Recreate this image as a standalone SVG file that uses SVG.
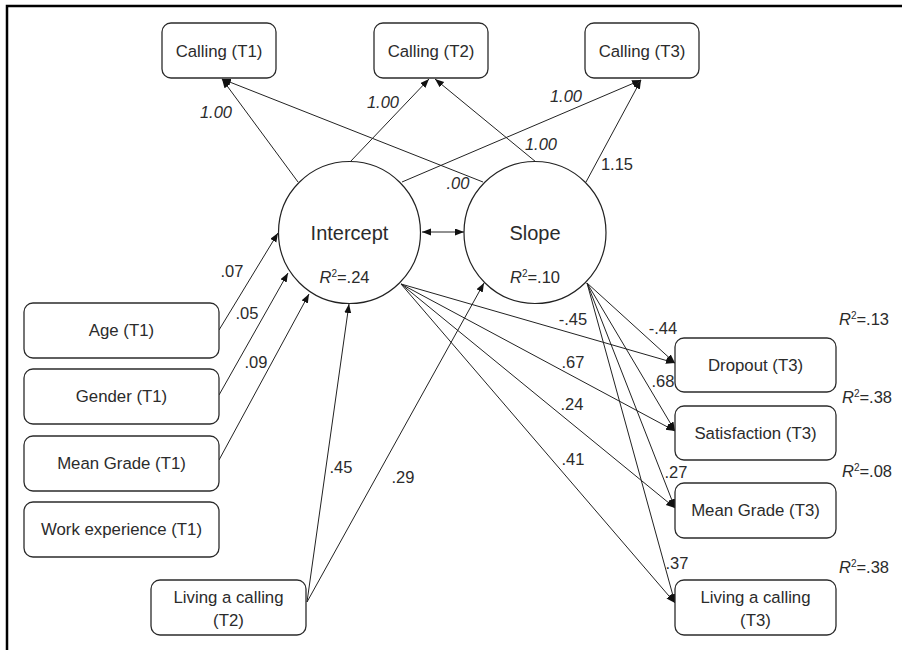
<svg xmlns="http://www.w3.org/2000/svg" width="902" height="650" viewBox="0 0 902 650">
<style>
text{font-family:"Liberation Sans",Arial,sans-serif;fill:#2b2b2b;}
.box{fill:#fff;stroke:#2b2b2b;stroke-width:1.3;}
.circ{fill:#fff;stroke:#222;stroke-width:1.2;}
.lbl{font-size:16.8px;text-anchor:middle;}
.big{font-size:20px;text-anchor:middle;}
.num{font-size:16.5px;text-anchor:middle;}
.it{font-style:italic;}
.conn line{stroke:#222;stroke-width:1;fill:none;marker-end:url(#ah);}
</style>
<defs>
<marker id="ah" markerUnits="userSpaceOnUse" markerWidth="10" markerHeight="8" refX="9" refY="3.5" orient="auto">
<path d="M0,0 L9,3.5 L0,7 z" fill="#111"/>
</marker>
<marker id="ahs" markerUnits="userSpaceOnUse" markerWidth="10" markerHeight="8" refX="9" refY="3.5" orient="auto-start-reverse">
<path d="M0,0 L9,3.5 L0,7 z" fill="#111"/>
</marker>
</defs>
<rect width="902" height="650" fill="#fff"/>
<path d="M7,650 L7,6 L902,6" fill="none" stroke="#000" stroke-width="2.5"/>

<g class="conn">
<line x1="298" y1="182" x2="222" y2="79"/>
<line x1="483" y1="182" x2="222" y2="79"/>
<line x1="350" y1="162" x2="429" y2="79"/>
<line x1="536" y1="162" x2="435" y2="79"/>
<line x1="402" y1="182" x2="641" y2="80"/>
<line x1="586" y1="182" x2="641" y2="80"/>
<line x1="219" y1="330" x2="278" y2="233"/>
<line x1="219" y1="395" x2="288" y2="273"/>
<line x1="219" y1="460" x2="309" y2="294"/>
<line x1="307" y1="602" x2="349" y2="304"/>
<line x1="307" y1="602" x2="484" y2="283"/>
<line x1="401" y1="284" x2="675" y2="363"/>
<line x1="401" y1="284" x2="675" y2="431"/>
<line x1="401" y1="284" x2="675" y2="508"/>
<line x1="401" y1="284" x2="675" y2="603"/>
<line x1="587" y1="283" x2="675" y2="363"/>
<line x1="587" y1="283" x2="675" y2="431"/>
<line x1="587" y1="283" x2="675" y2="508"/>
<line x1="587" y1="283" x2="675" y2="603"/>
<line x1="422" y1="232" x2="464" y2="232" style="marker-start:url(#ahs)"/>
</g>

<g id="calling-t1"><rect class="box" x="162" y="23" width="114" height="55" rx="9"/><text class="lbl" x="219" y="57">Calling (T1)</text></g>
<g id="calling-t2"><rect class="box" x="374" y="23" width="114" height="55" rx="9"/><text class="lbl" x="431" y="57">Calling (T2)</text></g>
<g id="calling-t3"><rect class="box" x="585" y="23" width="114" height="55" rx="9"/><text class="lbl" x="642" y="57">Calling (T3)</text></g>

<g id="intercept"><circle class="circ" cx="349.5" cy="232.5" r="71"/><text class="big" x="349.5" y="240">Intercept</text>
<text class="num" x="344.5" y="283"><tspan class="it">R</tspan><tspan font-size="10" dy="-6">2</tspan><tspan dy="6">=.24</tspan></text></g>
<g id="slope"><circle class="circ" cx="535" cy="232.5" r="71"/><text class="big" x="535" y="240">Slope</text>
<text class="num" x="535" y="283"><tspan class="it">R</tspan><tspan font-size="10" dy="-6">2</tspan><tspan dy="6">=.10</tspan></text></g>

<g id="age"><rect class="box" x="24" y="303" width="195" height="55" rx="9"/><text class="lbl" x="121.5" y="336">Age (T1)</text></g>
<g id="gender"><rect class="box" x="24" y="369" width="195" height="55" rx="9"/><text class="lbl" x="121.5" y="402">Gender (T1)</text></g>
<g id="meangrade-t1"><rect class="box" x="24" y="436" width="195" height="55" rx="9"/><text class="lbl" x="121.5" y="469">Mean Grade (T1)</text></g>
<g id="workexp"><rect class="box" x="24" y="502" width="195" height="55" rx="9"/><text class="lbl" x="121.5" y="535">Work experience (T1)</text></g>
<g id="living-t2"><rect class="box" x="151" y="580" width="155" height="55" rx="9"/><text class="lbl" x="228.5" y="603">Living a calling</text><text class="lbl" x="228.5" y="626">(T2)</text></g>

<g id="dropout"><rect class="box" x="675" y="338" width="161" height="54" rx="9"/><text class="lbl" x="755.5" y="371">Dropout (T3)</text></g>
<g id="satisfaction"><rect class="box" x="675" y="406" width="161" height="54" rx="9"/><text class="lbl" x="755.5" y="439">Satisfaction (T3)</text></g>
<g id="meangrade-t3"><rect class="box" x="675" y="483" width="161" height="55" rx="9"/><text class="lbl" x="755.5" y="516">Mean Grade (T3)</text></g>
<g id="living-t3"><rect class="box" x="675" y="580" width="161" height="55" rx="9"/><text class="lbl" x="755.5" y="603">Living a calling</text><text class="lbl" x="755.5" y="626">(T3)</text></g>

<g id="labels">
<text class="num it" x="216" y="118">1.00</text>
<text class="num it" x="383" y="108">1.00</text>
<text class="num it" x="566" y="102">1.00</text>
<text class="num it" x="541" y="150">1.00</text>
<text class="num it" x="458" y="189">.00</text>
<text class="num" x="617" y="170">1.15</text>
<text class="num" x="232" y="277">.07</text>
<text class="num" x="247" y="319">.05</text>
<text class="num" x="256" y="368">.09</text>
<text class="num" x="341" y="473">.45</text>
<text class="num" x="403" y="483">.29</text>
<text class="num" x="573" y="325">-.45</text>
<text class="num" x="573" y="368">.67</text>
<text class="num" x="572" y="410">.24</text>
<text class="num" x="573" y="465">.41</text>
<text class="num" x="663" y="334">-.44</text>
<text class="num" x="663" y="387">.68</text>
<text class="num" x="676" y="478">.27</text>
<text class="num" x="677" y="569">.37</text>
<text class="num" x="864" y="325"><tspan class="it">R</tspan><tspan font-size="10" dy="-6">2</tspan><tspan dy="6">=.13</tspan></text>
<text class="num" x="867" y="403"><tspan class="it">R</tspan><tspan font-size="10" dy="-6">2</tspan><tspan dy="6">=.38</tspan></text>
<text class="num" x="867" y="477"><tspan class="it">R</tspan><tspan font-size="10" dy="-6">2</tspan><tspan dy="6">=.08</tspan></text>
<text class="num" x="864" y="573"><tspan class="it">R</tspan><tspan font-size="10" dy="-6">2</tspan><tspan dy="6">=.38</tspan></text>
</g>
</svg>
